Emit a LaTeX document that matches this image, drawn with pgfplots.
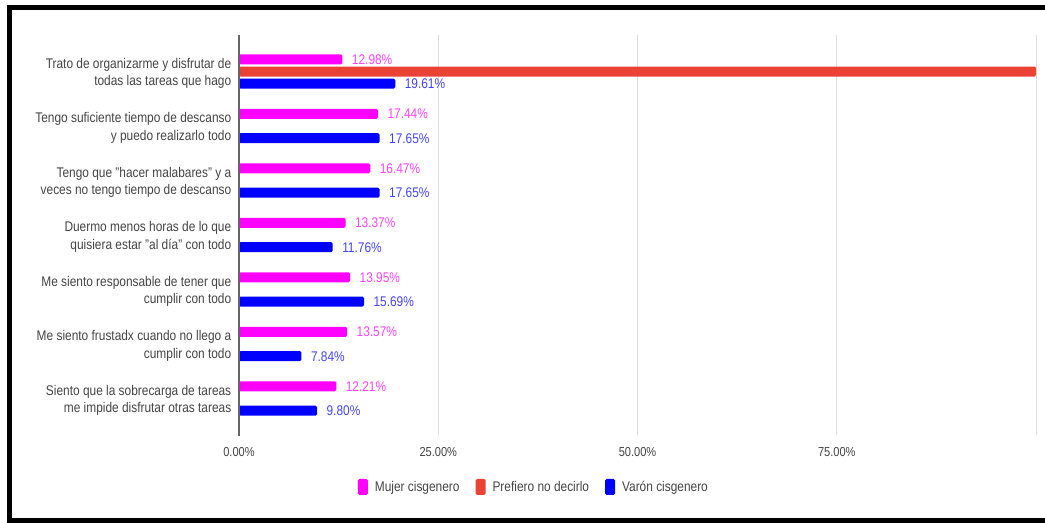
\documentclass[border=0pt]{standalone}
\usepackage{pgfplots}
\pgfplotsset{compat=1.18}
\usepackage{fontspec}
\setmainfont{Liberation Sans}[FakeStretch=0.85]

\definecolor{mujer}{HTML}{FF00FF}
\definecolor{prefiero}{HTML}{EA4335}
\definecolor{varon}{HTML}{0000FF}
\definecolor{mujertxt}{HTML}{FF44FF}
\definecolor{varontxt}{HTML}{4444FF}
\definecolor{txt}{HTML}{444444}

% categorias: 6 = arriba, 0 = abajo
\pgfplotstableread{
y  mujer  varon
6  12.98  19.61
5  17.44  17.65
4  16.47  17.65
3  13.37  11.76
2  13.95  15.69
1  13.57   7.84
0  12.21   9.80
}\datos

\begin{document}
\begin{tikzpicture}[x=1bp,y=1bp]
\useasboundingbox (0,0) rectangle (1045,523);
\draw[line width=5bp,black] (1046,515.5) -- (9.5,515.5) -- (9.5,2.5) -- (1046,2.5);
\begin{axis}[
    at={(239bp,88bp)}, anchor=south west,
    scale only axis,
    width=797bp, height=400bp,
    xbar, bar width=10bp,
    xmin=0, xmax=100,
    ymin=-0.67, ymax=6.67,
    axis x line*=bottom, axis y line*=left,
    axis line style={draw=none},
    xmajorgrids,
    major grid style={draw=black!13, line width=1bp},
    xtick={0,25,50,75},
    xticklabels={0.00\%,25.00\%,50.00\%,75.00\%},
    extra x ticks={100}, extra x tick labels={},
    ytick={0,...,6},
    yticklabels={
      {Siento que la sobrecarga de tareas\\me impide disfrutar otras tareas},
      {Me siento frustadx cuando no llego a\\cumplir con todo},
      {Me siento responsable de tener que\\cumplir con todo},
      {Duermo menos horas de lo que\\quisiera estar "al día" con todo},
      {Tengo que "hacer malabares" y a\\veces no tengo tiempo de descanso},
      {Tengo suficiente tiempo de descanso\\y puedo realizarlo todo},
      {Trato de organizarme y disfrutar de\\todas las tareas que hago}},
    yticklabel style={align=right, text=txt, yshift=-2bp,
        font=\fontsize{14bp}{17.5bp}\selectfont},
    xticklabel style={text=txt, yshift=-9bp, font=\fontsize{13bp}{15bp}\selectfont},
    tick style={draw=none},
    /pgf/number format/assume math mode=true,
    clip=false,
    legend columns=-1,
    legend style={at={(0.370,-0.13)}, anchor=center, draw=none, fill=none,
        font=\fontsize{14bp}{16bp}\selectfont, text=txt,
        /tikz/every odd column/.append style={column sep=5bp},
        /tikz/every even column/.append style={column sep=14bp}},
]
\addplot+[draw=none, fill=mujer, bar shift=12.2bp, rounded corners=1.5bp,
    nodes near coords={\pgfmathprintnumber[fixed,fixed zerofill,precision=2,assume math mode=true]{\pgfplotspointmeta}\%},
    nodes near coords style={font=\fontsize{14bp}{16bp}\selectfont, text=mujertxt, anchor=west, xshift=6bp},
    legend image code/.code={\fill[mujer] (0bp,-8bp) rectangle (10bp,8bp);}]
    table[x=mujer, y=y] {\datos};
\addlegendentry{Mujer cisgenero}
\addplot+[draw=none, fill=prefiero, bar shift=0bp, rounded corners=1.5bp,
    legend image code/.code={\fill[prefiero] (0bp,-8bp) rectangle (10bp,8bp);}]
    coordinates {(100,6)};
\addlegendentry{Prefiero no decirlo}
\addplot+[draw=none, fill=varon, bar shift=-12.2bp, rounded corners=1.5bp,
    nodes near coords={\pgfmathprintnumber[fixed,fixed zerofill,precision=2,assume math mode=true]{\pgfplotspointmeta}\%},
    nodes near coords style={font=\fontsize{14bp}{16bp}\selectfont, text=varontxt, anchor=west, xshift=6bp},
    legend image code/.code={\fill[varon] (0bp,-8bp) rectangle (10bp,8bp);}]
    table[x=varon, y=y] {\datos};
\addlegendentry{Varón cisgenero}
% eje cero
\draw[black!60, line width=1.2bp] (axis cs:0,-0.69) -- (axis cs:0,6.67);
\end{axis}
\end{tikzpicture}
\end{document}
